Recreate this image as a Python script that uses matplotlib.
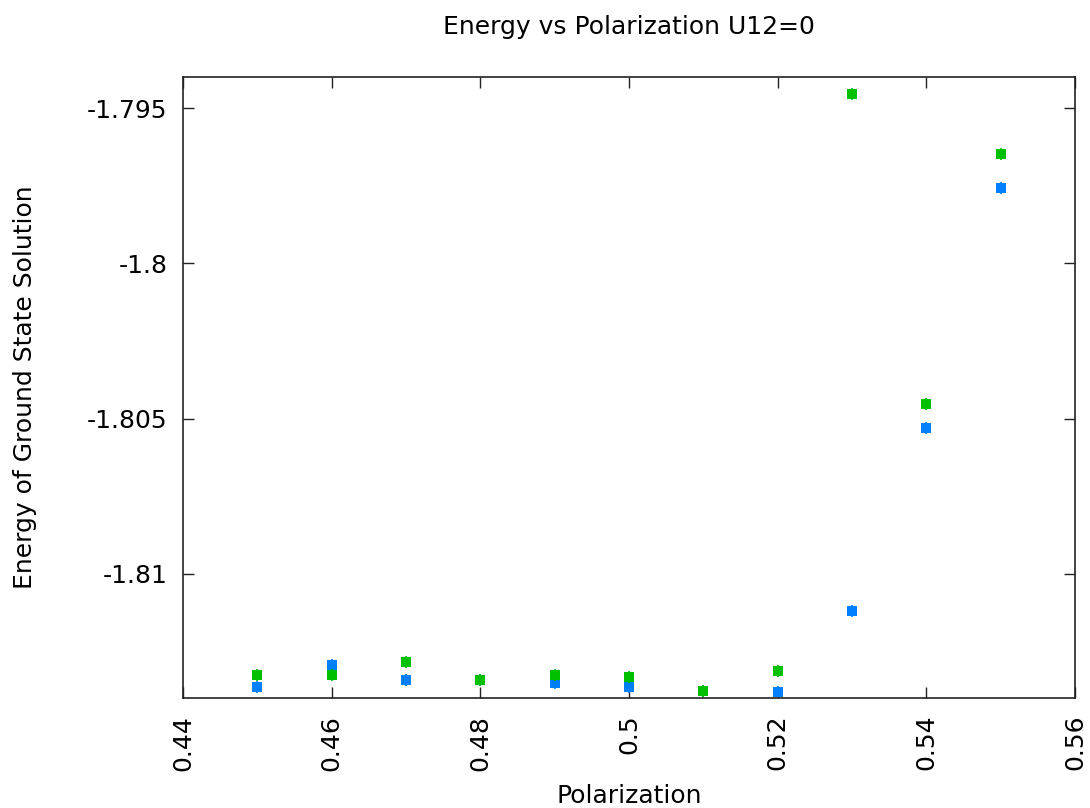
import matplotlib
matplotlib.use("Agg")
import matplotlib.pyplot as plt

polarization = [0.45, 0.46, 0.47, 0.48, 0.49, 0.50, 0.51, 0.52, 0.53, 0.54, 0.55]
energy_blue = [-1.81364, -1.81294, -1.81343, -1.81343, -1.81353, -1.81365, -1.81378, -1.81382, -1.81119, -1.80530, -1.79756]
energy_green = [-1.81326, -1.81326, -1.81285, -1.81343, -1.81325, -1.81332, -1.81378, -1.81314, -1.79455, -1.80453, -1.79647]

x_ticks = [0.44, 0.46, 0.48, 0.5, 0.52, 0.54, 0.56]
x_tick_labels = ["0.44", "0.46", "0.48", "0.5", "0.52", "0.54", "0.56"]
y_ticks = [-1.81, -1.805, -1.8, -1.795]
y_tick_labels = ["-1.81", "-1.805", "-1.8", "-1.795"]

plt.rcParams['font.family'] = ['DejaVu Sans']
fig = plt.figure(figsize=(10.9, 8.08), dpi=100)
ax = fig.add_axes([183/1090, 1 - 698/808, (1075-183)/1090, (698-77)/808])

for vals, col in [(energy_blue, '#0080ff'), (energy_green, '#00c000')]:
    ax.plot(polarization, vals, linestyle='none', marker='|', markersize=9,
            markeredgewidth=1.2, color=col)
    ax.plot(polarization, vals, linestyle='none', marker='s', markersize=6.8,
            color=col, markeredgewidth=0)

ax.set_xlim(0.44, 0.56)
ax.set_ylim(-1.814, -1.794)
ax.set_xticks(x_ticks)
ax.set_xticklabels(x_tick_labels, rotation=90, fontsize=18)
ax.set_yticks(y_ticks)
ax.set_yticklabels(y_tick_labels, fontsize=18)
ax.tick_params(axis='x', direction='in', length=8, width=1, top=True, pad=12, colors='#222222', labelcolor='black')
ax.tick_params(axis='y', direction='in', length=8, width=1, right=True, pad=11, colors='#222222', labelcolor='black')
for s in ax.spines.values():
    s.set_linewidth(1.2)
    s.set_color('#222222')

ax.set_title("Energy vs Polarization U12=0", fontsize=18, pad=31)
ax.set_xlabel("Polarization", fontsize=18, labelpad=10)
ax.set_ylabel("Energy of Ground State Solution", fontsize=18, labelpad=36)

fig.savefig("out.png", dpi=100)
